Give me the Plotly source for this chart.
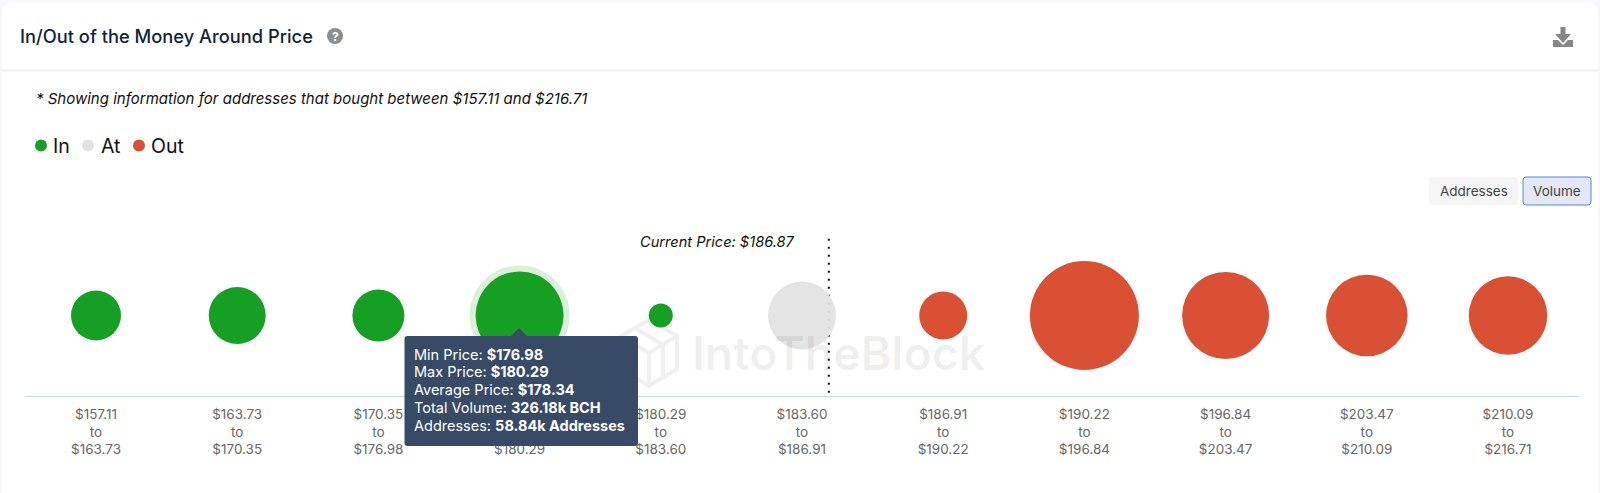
import plotly.graph_objects as go

W, H = 1600, 493
FONT = "Inter"

bin_low = ["$157.11", "$163.73", "$170.35", "$176.98", "$180.29", "$183.60",
           "$186.91", "$190.22", "$196.84", "$203.47", "$210.09"]
bin_high = ["$163.73", "$170.35", "$176.98", "$180.29", "$183.60", "$186.91",
            "$190.22", "$196.84", "$203.47", "$210.09", "$216.71"]
# Total volume per price bin, thousands of BCH (bubble area)
volume_in = [105.3, 136.8, 113.9, 326.18, 24.3]
volume_at = [194.8]
volume_out = [97.0, 500.0, 318.8, 280.0, 260.0]

categories = [f"{a}<br>to<br>{b}" for a, b in zip(bin_low, bin_high)]
cats_in, cats_at, cats_out = categories[:5], categories[5:6], categories[6:]
highlight = 3
current_price_pos = 5.19

GREEN, GREY, RED = "#15a024", "#e2e2e2", "#d95035"
sizeref = 2 * 326.18 / 88 ** 2


def px(x):
    return x / W


def py(y):
    return 1 - y / H


def bubble(name, cats, vals, color, opacity=1.0):
    return go.Scatter(
        x=cats, y=[0.5] * len(cats), mode="markers", name=name, cliponaxis=False,
        customdata=vals, hovertemplate="%{customdata}k BCH<extra>" + name + "</extra>",
        marker=dict(size=vals, sizemode="area", sizeref=sizeref, color=color,
                    opacity=opacity, line=dict(width=0)),
    )


fig = go.Figure()
fig.add_trace(go.Scatter(
    x=[cats_in[highlight]], y=[0.5], mode="markers", showlegend=False, hoverinfo="skip",
    cliponaxis=False,
    marker=dict(size=[volume_in[highlight]], sizemode="area", sizeref=sizeref,
                color="#cfe8cd", line=dict(width=12, color="#cfe8cd")),
))
fig.add_trace(bubble("In", cats_in, volume_in, GREEN))
fig.add_trace(bubble("At", cats_at, volume_at, GREY, 0.93))
fig.add_trace(bubble("Out", cats_out, volume_out, RED))


def rect_path(x0, y0, x1, y1, r):
    a, b, c, d = px(x0), py(y0), px(x1), py(y1)
    rx, ry = r / W, r / H
    return (f"M{a + rx},{b} L{c - rx},{b} Q{c},{b} {c},{b - ry} L{c},{d + ry} Q{c},{d} {c - rx},{d} "
            f"L{a + rx},{d} Q{a},{d} {a},{d + ry} L{a},{b - ry} Q{a},{b} {a + rx},{b} Z")


def poly(points, close=True):
    s = "M" + " L".join(f"{px(x)},{py(y)}" for x, y in points)
    return s + (" Z" if close else "")


def circle(cx, cy, r, color):
    return dict(type="circle", xref="paper", yref="paper", x0=px(cx - r), x1=px(cx + r),
                y0=py(cy + r), y1=py(cy - r), fillcolor=color, line_width=0, layer="below")


def path(d, color=None, line=None, lw=0, layer="below"):
    return dict(type="path", xref="paper", yref="paper", path=d, fillcolor=color,
                line=dict(color=line or "rgba(0,0,0,0)", width=lw), layer=layer)


WM = "#f0f0f0"
shapes = [
    path(rect_path(2, 3, 1598, 520, 10), "#ffffff"),
    dict(type="line", xref="paper", yref="paper", x0=px(2), x1=px(1598), y0=py(70.5), y1=py(70.5),
         line=dict(color="#f1f2f4", width=2), layer="below"),
    circle(335, 36, 8, "#8e8e8e"),
    # download icon
    path(poly([(1560.5, 27), (1565.5, 27), (1565.5, 34), (1571, 34), (1563, 43), (1555, 34), (1560.5, 34)]), "#868686"),
    path(poly([(1553, 40), (1558, 40), (1563, 45), (1568, 40), (1573, 40), (1573, 47), (1553, 47)]), "#868686"),
    # legend dots
    circle(41, 145.5, 6, GREEN), circle(88, 145.5, 6, GREY), circle(139, 145.5, 6, RED),
    # buttons
    path(rect_path(1429, 177, 1518, 205, 3), "#f5f5f6"),
    path(rect_path(1523, 177, 1591, 205, 3), "#e3e8f4", "#4f83e6", 1),
    # watermark logo
    path(poly([(649, 320), (677, 336), (677, 369), (649, 386), (621, 369), (621, 336)]), None, WM, 4),
    path(poly([(621, 336), (649, 353), (677, 336)], False), None, WM, 4),
    path(poly([(649, 353), (649, 386)], False), None, WM, 4),
    path(poly([(635, 328), (663, 345), (663, 378)], False), None, WM, 4),
    # current price marker
    dict(type="line", xref="x", yref="y", x0=current_price_pos, x1=current_price_pos, y0=0.02, y1=1.02,
         line=dict(color="#111111", width=2, dash="2px,6px"), layer="below"),
    # tooltip
    path(rect_path(404.5, 336, 638, 446, 3), "#374a66", layer="above"),
    path(poly([(510, 337), (519, 328), (528, 337)]), "#374a66", layer="above"),
]


def note(text, x, y, size, color, xanchor="left", **font):
    return dict(text=text, x=px(x), y=py(y), xref="paper", yref="paper", showarrow=False,
                xanchor=xanchor, yanchor="middle", align="left",
                font=dict(family=font.get("family", FONT), size=size, color=color,
                          weight=font.get("weight", 400), style=font.get("style", "normal")))


tooltip_lines = ["Min Price: <b>$176.98</b>", "Max Price: <b>$180.29</b>", "Average Price: <b>$178.34</b>",
                 "Total Volume: <b>326.18k BCH</b>", "Addresses: <b>58.84k Addresses</b>"]
annotations = [
    note("In/Out of the Money Around Price", 18, 36, 18.3, "#10243a", weight=500),
    note("?", 335, 36, 12, "#ffffff", "center", weight=700),
    note("* Showing information for addresses that bought between $157.11 and $216.71",
         34, 99, 15, "#111111", style="italic"),
    note("In", 51, 145.5, 19.5, "#111111"),
    note("At", 99, 145.5, 19.5, "#111111"),
    note("Out", 149, 145.5, 19.5, "#111111"),
    note("Addresses", 1473.5, 191, 13.5, "#444444", "center"),
    note("Volume", 1557, 191, 13.5, "#444444", "center"),
    note("Current Price: $186.87", 638, 242, 14.6, "#111111", style="italic"),
    note("IntoTheBlock", 690, 353, 46.5, "rgba(0,0,0,0.065)", weight=600),
] + [note(t, 412, 354 + 17.8 * i, 14.5, "#ffffff") for i, t in enumerate(tooltip_lines)]

fig.update_layout(
    width=W, height=H, margin=dict(l=0, r=0, t=0, b=0), autosize=False,
    paper_bgcolor="#f8f9fc", plot_bgcolor="rgba(0,0,0,0)", showlegend=False,
    font=dict(family=FONT), shapes=shapes, annotations=annotations,
    xaxis=dict(domain=[px(25.4), px(1578.6)], type="category", categoryorder="array",
               categoryarray=categories, range=[-0.5, 10.5], showgrid=False, zeroline=False,
               showline=True, linecolor="#c8d8ee", linewidth=1, ticks="", ticklabelstandoff=6,
               tickfont=dict(size=13.5, color="#666666", family=FONT), automargin=False),
    yaxis=dict(domain=[py(396), py(235)], range=[0, 1], visible=False, automargin=False),
)
fig.write_html("out.html", config=dict(displayModeBar=False),
               post_script="document.body.style.margin='0';document.body.style.overflow='hidden';")
